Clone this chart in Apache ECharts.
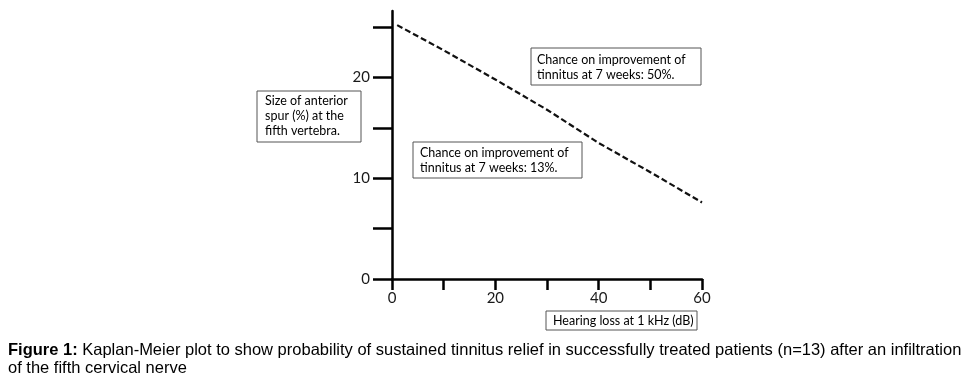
<!DOCTYPE html>
<html>
<head>
<meta charset="utf-8">
<script src="https://cdn.jsdelivr.net/npm/echarts@6/dist/echarts.min.js"></script>
<style>
html,body{margin:0;padding:0;background:#fff;}
#chart{width:970px;height:386px;}
</style>
</head>
<body>
<div id="chart"></div>
<script>
// ---- data ----
var hearingLoss = [1, 10, 20, 30, 40, 50, 60];
var spurSize = [25.2, 22.7, 19.8, 16.8, 13.5, 10.6, 7.6];
var xTicks = [0, 10, 20, 30, 40, 50, 60];
var xLabels = [0, 20, 40, 60];
var yTicks = [0, 5, 10, 15, 20, 25];
var yLabels = [0, 10, 20];
var yLabelText = 'Size of anterior\nspur (%) at the\nfifth vertebra.';
var xLabelText = 'Hearing loss at 1 kHz (dB)';
var noteHigh = 'Chance on improvement of\ntinnitus at 7 weeks: 50%.';
var noteLow = 'Chance on improvement of\ntinnitus at 7 weeks: 13%.';
var captionBold = 'Figure 1:';
var captionLine1 = ' Kaplan-Meier plot to show probability of sustained tinnitus relief in successfully treated patients (n=13) after an infiltration';
var captionLine2 = 'of the fifth cervical nerve';

var lineData = hearingLoss.map(function (x, i) { return [x, spurSize[i]]; });

var boxFont = '12.5px Lato, "Open Sans", sans-serif';
function box(x, y, w, h, text, tx, ty) {
  return {
    type: 'group',
    children: [
      { type: 'rect', shape: { x: x, y: y, width: w, height: h },
        style: { fill: '#fff', stroke: '#555', lineWidth: 1 } },
      { type: 'text', x: tx, y: ty,
        style: { text: text, font: boxFont, fill: '#000', lineHeight: 15, verticalAlign: 'top' } }
    ]
  };
}

var chart = echarts.init(document.getElementById('chart'), null, { renderer: 'canvas' });
chart.setOption({
  animation: false,
  backgroundColor: '#fff',
  grid: { left: 392, right: 268, top: 11, bottom: 107, containLabel: false },
  xAxis: {
    type: 'value', min: 0, max: 60, interval: 10,
    axisLine: { show: true, lineStyle: { color: '#000', width: 2.5 } },
    axisTick: { show: true, length: 11, inside: false, customValues: xTicks,
      lineStyle: { color: '#000', width: 2.5 } },
    axisLabel: { customValues: xLabels, margin: 12, color: '#1a1a1a',
      fontFamily: 'Lato, "Open Sans", sans-serif', fontSize: 15 },
    splitLine: { show: false }
  },
  yAxis: {
    type: 'value', min: 0, max: 26.6, interval: 5,
    axisLine: { show: true, lineStyle: { color: '#000', width: 2.5 } },
    axisTick: { show: true, length: 19, inside: false, customValues: yTicks,
      lineStyle: { color: '#000', width: 2.5 } },
    axisLabel: { customValues: yLabels, margin: 22, color: '#1a1a1a',
      fontFamily: 'Lato, "Open Sans", sans-serif', fontSize: 15 },
    splitLine: { show: false }
  },
  series: [{
    type: 'line',
    data: lineData,
    showSymbol: false,
    symbol: 'none',
    lineStyle: { color: '#111', width: 2.2, type: [6, 3] },
    z: 3
  }],
  graphic: [
    box(257, 91, 104, 51, yLabelText, 265, 93),
    box(531, 48, 170, 37, noteHigh, 537, 52),
    box(413, 142, 169, 36, noteLow, 420, 145),
    box(546, 311, 151, 19, xLabelText, 553, 313),
    {
      type: 'text', left: 8, top: 341,
      style: {
        text: '{b|' + captionBold + '}' + captionLine1 + '\n' + captionLine2,
        font: '16.5px "Liberation Sans", Arial, sans-serif',
        fill: '#000',
        lineHeight: 18,
        rich: { b: { font: 'bold 16.5px "Liberation Sans", Arial, sans-serif', fill: '#000' } }
      }
    }
  ]
});
</script>
</body>
</html>
